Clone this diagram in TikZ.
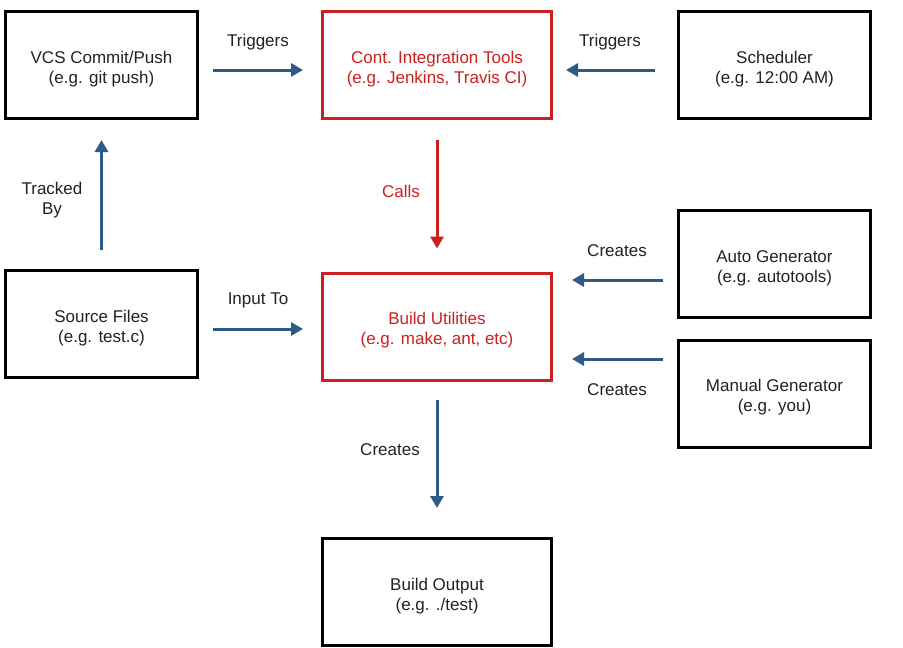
\documentclass[tikz,border=0pt]{standalone}
\usepackage{fontspec}
\setmainfont{Liberation Sans}
\usetikzlibrary{arrows.meta,calc}
\definecolor{arrblue}{HTML}{2E5A88}
\definecolor{boxred}{HTML}{CC2020}
\definecolor{txt}{HTML}{222222}
\newcommand{\mytopstrut}{\rule{0pt}{20pt}}
\begin{document}
\begin{tikzpicture}[x=1pt,y=-1pt,
  box/.style={draw=black,line width=3pt,minimum width=192pt,minimum height=107pt,align=center,font=\fontsize{17}{20}\selectfont,text=txt},
  wbox/.style={box,minimum width=229pt},
  redbox/.style={wbox,draw=boxred,text=boxred},
  arr/.style={draw=arrblue,line width=3pt,-{Triangle[length=12pt,width=13pt]}},
  redarr/.style={arr,draw=boxred},
  lbl/.style={font=\fontsize{17}{20}\selectfont,align=center,text=txt}]
\useasboundingbox[fill=white] (0,0) rectangle (903,648);

\node[box] (vcs) at (101.5,65) {\mytopstrut VCS Commit/Push\\(e.g. git push)};
\node[redbox] (ci) at (437,65) {\mytopstrut Cont. Integration Tools\\(e.g. Jenkins, Travis CI)};
\node[box] (sch) at (774.5,65) {\mytopstrut Scheduler\\(e.g. 12:00 AM)};
\node[box] (src) at (101.5,324) {\mytopstrut Source Files\\(e.g. test.c)};
\node[redbox] (bu) at (437,326.5) {\mytopstrut Build Utilities\\(e.g. make, ant, etc)};
\node[box] (auto) at (774.5,264) {\mytopstrut Auto Generator\\(e.g. autotools)};
\node[box] (man) at (774.5,393.5) {\mytopstrut Manual Generator\\(e.g. you)};
\node[wbox] (out) at (437,592) {\mytopstrut Build Output\\(e.g. ./test)};

\draw[arr] ($(vcs.east)+(14,5)$) -- ($(ci.west)+(-18,5)$);
\node[lbl] (l1) at (258,42) {Triggers};
\draw[arr] ($(sch.west)+(-22,5)$) -- ($(ci.east)+(13,5)$);
\node[lbl] (l2) at (610,42) {Triggers};
\draw[redarr] ($(ci.south)+(0,20)$) -- ($(bu.north)+(0,-23)$);
\node[lbl,text=boxred] (l3) at (401,191) {Calls};
\draw[arr] ($(src.north)+(0,-19)$) -- ($(vcs.south)+(0,20)$);
\node[lbl] (l4) at (52,200) {Tracked\\By};
\draw[arr] ($(src.east)+(14,5)$) -- ($(bu.west)+(-18,2.5)$);
\node[lbl] (l5) at (258,300) {Input To};
\draw[arr] ($(auto.west)+(-14,16)$) -- ($(bu.east)+(19,-46.5)$);
\node[lbl] (l6) at (617,251) {Creates};
\draw[arr] ($(man.west)+(-14,-34.5)$) -- ($(bu.east)+(19,32.5)$);
\node[lbl] (l7) at (617,390) {Creates};
\draw[arr] ($(bu.south)+(0,18.5)$) -- ($(out.north)+(0,-29)$);
\node[lbl] (l8) at (390,450) {Creates};
\end{tikzpicture}
\end{document}
